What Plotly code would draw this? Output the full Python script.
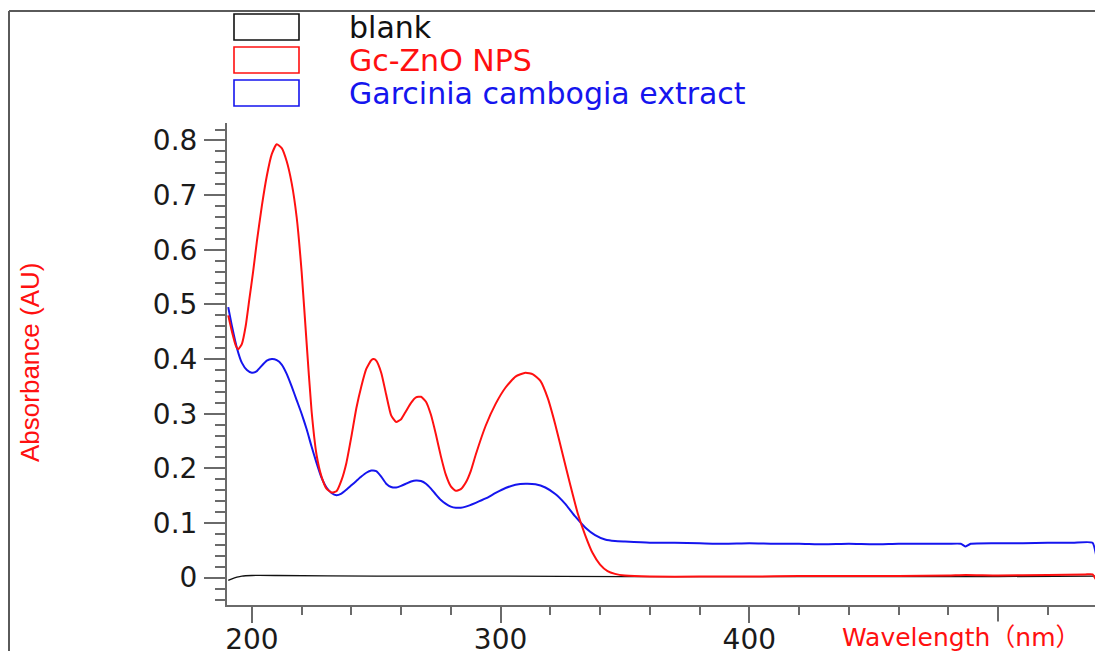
import plotly.graph_objects as go

# ---------------- data ----------------
wl_red = [190.5, 192, 193.5, 194.5, 196, 197.5, 199, 200.5, 202, 204, 206, 208, 210, 212,
          214, 216, 218, 220, 222, 224, 226, 228, 230, 232, 234, 236, 238, 240, 242,
          244, 246, 248, 249, 250, 252, 254, 256, 258, 260, 262, 264, 266, 268, 270, 272,
          274, 276, 278, 280, 282, 284, 286, 288, 290, 294, 298, 302, 306, 310, 313, 316,
          319, 322, 325, 328, 331, 334, 337, 340, 343, 346, 350, 360, 380, 400, 420, 440,
          460, 480, 487, 500, 520, 535, 538, 539.5, 541]
abs_red = [0.48, 0.45, 0.425, 0.418, 0.428, 0.46, 0.51, 0.56, 0.615, 0.68, 0.735, 0.775, 0.793, 0.786,
           0.762, 0.722, 0.66, 0.56, 0.43, 0.305, 0.225, 0.185, 0.163, 0.156, 0.158, 0.178, 0.21, 0.258, 0.31,
           0.35, 0.382, 0.398, 0.400, 0.397, 0.375, 0.335, 0.297, 0.285, 0.29, 0.305, 0.32, 0.330, 0.331, 0.322, 0.298,
           0.262, 0.222, 0.188, 0.167, 0.159, 0.162, 0.174, 0.195, 0.225, 0.278, 0.318, 0.348, 0.368, 0.375, 0.372, 0.36,
           0.328, 0.28, 0.225, 0.17, 0.118, 0.078, 0.045, 0.024, 0.012, 0.007, 0.004, 0.002, 0.002, 0.002, 0.003, 0.003,
           0.003, 0.004, 0.005, 0.004, 0.005, 0.006, 0.006, -0.004, -0.008]

wl_blue = [190.5, 192, 194, 196, 198, 200, 202, 204, 206, 208, 210, 212, 214, 216, 218, 220,
           222, 224, 226, 228, 230, 232, 234, 236, 238, 240, 242, 244, 246, 248, 250, 252,
           254, 256, 258, 260, 262, 264, 266, 268, 270, 272, 274, 276, 278, 280, 282, 284,
           286, 290, 294, 298, 302, 306, 310, 314, 318, 322, 326, 330, 334, 338, 342, 346,
           350, 360, 370, 380, 390, 400, 410, 420, 430, 440, 450, 460, 470, 480, 485, 487,
           489, 500, 510, 520, 530, 538, 539.5, 541]
abs_blue = [0.495, 0.46, 0.42, 0.393, 0.38, 0.375, 0.378, 0.388, 0.397, 0.400, 0.398, 0.39, 0.373, 0.35, 0.325, 0.30,
            0.272, 0.24, 0.21, 0.183, 0.165, 0.155, 0.151, 0.154, 0.161, 0.169, 0.177, 0.185, 0.192, 0.196, 0.195, 0.185,
            0.172, 0.166, 0.165, 0.168, 0.172, 0.176, 0.178, 0.177, 0.172, 0.163, 0.152, 0.142, 0.135, 0.13, 0.128, 0.128,
            0.13, 0.137, 0.145, 0.155, 0.164, 0.17, 0.172, 0.171, 0.165, 0.153, 0.135, 0.112, 0.092, 0.078, 0.07, 0.067,
            0.066, 0.064, 0.064, 0.063, 0.062, 0.063, 0.062, 0.062, 0.061, 0.062, 0.061, 0.062, 0.062, 0.062, 0.062, 0.057,
            0.062, 0.063, 0.063, 0.064, 0.064, 0.064, 0.04, 0.01]

wl_black = [190.5, 192, 194, 196, 200, 210, 250, 300, 350, 400, 450, 500, 540]
abs_black = [-0.005, -0.002, 0.001, 0.003, 0.004, 0.004, 0.003, 0.003, 0.002, 0.002, 0.002, 0.002, 0.003]

series_names = ["blank", "Gc-ZnO NPS", "Garcinia cambogia extract"]
series_colors = ["#111111", "#ff1010", "#1515ee"]

x_range = [190, 542.2]
y_range = [-0.05, 0.832]
x_tickvals = [200, 300, 400, 500]
x_ticktext = ["200", "300", "400", ""]
x_title = "Wavelength（nm）"
y_title = "Absorbance (AU)"

# ---------------- layout geometry ----------------
# the page body has an 8px margin, so the figure starts at screen (8, 8)
OFF = 8
W, H = 1103 - OFF, 651 - OFF
ML = 227 - OFF          # y axis at screen x=227
MT = 123 - OFF          # plot top at screen y=123
MB = H - (605 - OFF)    # x axis at screen y=605
MR = 0
PW, PH = W - ML - MR, H - MT - MB


def px(sx):
    """screen x -> paper x"""
    return (sx - OFF - ML) / PW


def py(sy):
    """screen y -> paper y"""
    return (H - MB - (sy - OFF)) / PH


fig = go.Figure()
for wl, ab, name, col, lw in [(wl_black, abs_black, series_names[0], series_colors[0], 1.3),
                              (wl_blue, abs_blue, series_names[2], series_colors[2], 2),
                              (wl_red, abs_red, series_names[1], series_colors[1], 2)]:
    fig.add_trace(go.Scatter(x=wl, y=ab, mode="lines", name=name,
                             line=dict(color=col, width=lw, shape="spline", smoothing=0.5),
                             showlegend=False))

axis_col = "#6a6a6a"
tick_font = dict(family="DejaVu Sans", size=28, color="#1a1a1a")

fig.update_xaxes(range=x_range, automargin=False, showgrid=False, zeroline=False, showline=True,
                 linecolor=axis_col, linewidth=2, ticks="outside", ticklen=16,
                 tickwidth=2, tickcolor=axis_col, tickmode="array",
                 tickvals=x_tickvals, ticktext=x_ticktext,
                 tickfont=tick_font, ticklabelstandoff=-8,
                 minor=dict(ticks="outside", dtick=20, tick0=0, ticklen=8,
                            tickwidth=2, tickcolor=axis_col, showgrid=False))
fig.update_yaxes(range=y_range, automargin=False, showgrid=False, zeroline=False, showline=True,
                 linecolor=axis_col, linewidth=2, ticks="outside", ticklen=21,
                 tickwidth=2, tickcolor=axis_col, tick0=0, dtick=0.1,
                 tickformat="~g", tickfont=tick_font, ticklabelstandoff=1,
                 minor=dict(ticks="outside", dtick=0.02, tick0=0, ticklen=10,
                            tickwidth=2, tickcolor=axis_col, showgrid=False))

shapes = []
# outer frame (only left and top edges visible)
frame_col = "#5a5a5a"
shapes.append(dict(type="line", xref="paper", yref="paper", x0=px(9), x1=px(9),
                   y0=py(11), y1=py(670), line=dict(color=frame_col, width=2)))
shapes.append(dict(type="line", xref="paper", yref="paper", x0=px(9), x1=px(1120),
                   y0=py(11), y1=py(11), line=dict(color=frame_col, width=2)))

annotations = []
box_tops = [14, 47, 80]
for i, (name, col) in enumerate(zip(series_names, series_colors)):
    t = box_tops[i]
    shapes.append(dict(type="rect", xref="paper", yref="paper",
                       x0=px(234), x1=px(299), y0=py(t + 26), y1=py(t),
                       line=dict(color=col, width=1.6), fillcolor="rgba(0,0,0,0)"))
    annotations.append(dict(xref="paper", yref="paper", x=px(347), y=py(t + 13.5),
                            xanchor="left", yanchor="middle", showarrow=False,
                            text=name, font=dict(family="DejaVu Sans", size=30, color=col)))

annotations.append(dict(xref="paper", yref="paper", x=px(30), y=py(363),
                        xanchor="center", yanchor="middle", showarrow=False, textangle=-90,
                        text=y_title, font=dict(family="Liberation Sans", size=26, color="#ff1010")))
annotations.append(dict(xref="paper", yref="paper", x=px(840), y=py(637),
                        xanchor="left", yanchor="middle", showarrow=False,
                        text=x_title, bgcolor="white",
                        font=dict(family="DejaVu Sans, Noto Sans CJK JP", size=25, color="#ff1010")))

fig.update_layout(width=W, height=H, margin=dict(l=ML, r=MR, t=MT, b=MB),
                  plot_bgcolor="white", paper_bgcolor="white",
                  shapes=shapes, annotations=annotations, showlegend=False)

fig.write_html("out.html")
